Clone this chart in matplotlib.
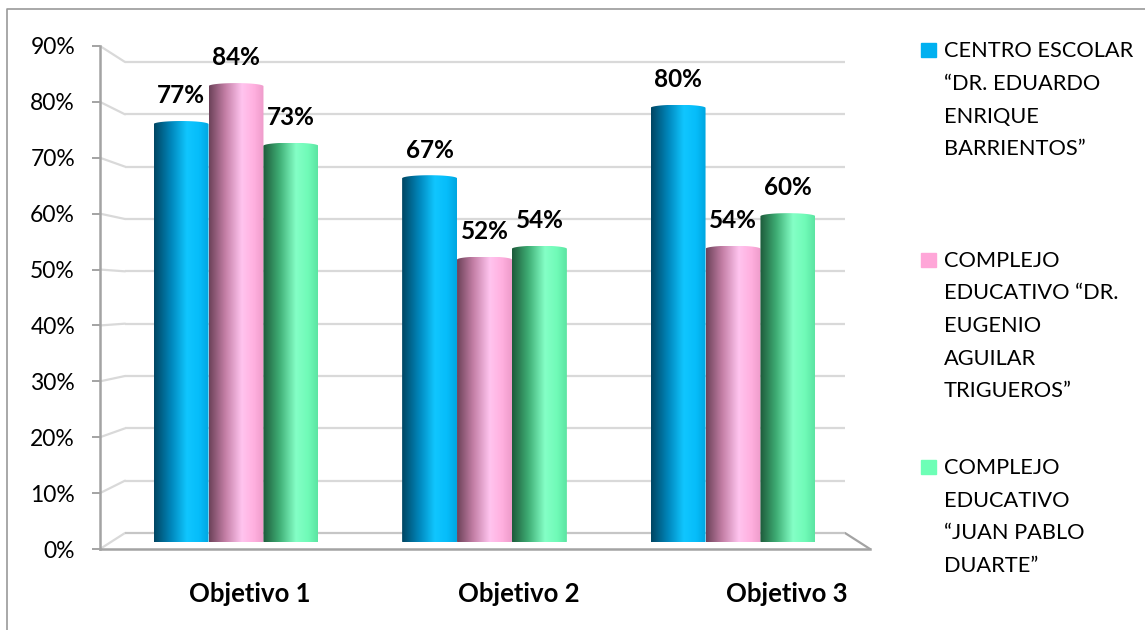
import numpy as np
import matplotlib
matplotlib.use('Agg')
import matplotlib.pyplot as plt
from matplotlib.patches import ConnectionPatch, Rectangle
from matplotlib.lines import Line2D
from matplotlib.path import Path
from matplotlib.colors import LinearSegmentedColormap
from matplotlib.ticker import PercentFormatter

# datos
categorias = ['Objetivo 1', 'Objetivo 2', 'Objetivo 3']
centro_barrientos = [0.77, 0.67, 0.80]
complejo_aguilar = [0.84, 0.52, 0.54]
complejo_duarte = [0.73, 0.54, 0.60]
nombres = ['CENTRO ESCOLAR\n“DR. EDUARDO\nENRIQUE\nBARRIENTOS”',
           'COMPLEJO\nEDUCATIVO “DR.\nEUGENIO\nAGUILAR\nTRIGUEROS”',
           'COMPLEJO\nEDUCATIVO\n“JUAN PABLO\nDUARTE”']
marcas = [0.0, 0.1, 0.2, 0.3, 0.4, 0.5, 0.6, 0.7, 0.8, 0.9]

series = [centro_barrientos, complejo_aguilar, complejo_duarte]
colores_leyenda = ['#00b0f0', '#ffa6d8', '#6dffb6']
degradados = [
    ['#004562', '#0084b8', '#10c6ff', '#06bdfa', '#00a6e0'],
    ['#6c4259', '#c47fa6', '#ffc4ef', '#ffb0df', '#ee9ccb'],
    ['#1d5a3a', '#3fae75', '#84ffc6', '#70fbb8', '#5ce4a2'],
]

plt.rcParams['font.family'] = ['Lato', 'DejaVu Sans']

W, H = 1145, 630
fig = plt.figure(figsize=(W / 100, H / 100), dpi=100)


def fx(x):
    return x / W


def fy(y):
    return 1 - y / H


def caja(l, t, r, b):
    return [fx(l), fy(b), fx(r) - fx(l), fy(t) - fy(b)]


gris_rejilla = '#d9d9d9'
gris_eje = '#a3a3a3'

# pared del fondo
ax_back = fig.add_axes(caja(125, 62, 845, 533), zorder=0)
ax_back.set_xlim(0, 1)
ax_back.set_ylim(0, 0.9)
ax_back.axis('off')
for t in marcas:
    ax_back.plot([0, 1], [t, t], color='#c6c6c6' if t == 0 else gris_rejilla,
                 lw=1.6, clip_on=False, solid_capstyle='butt')

# plano frontal (ejes)
ax_front = fig.add_axes(caja(100, 46, 870, 549), zorder=1)
ax_front.patch.set_visible(False)
ax_front.set_ylim(0, 0.9)
ax_front.set_xlim(-0.5587, 2.3091)
for s in ['top', 'right']:
    ax_front.spines[s].set_visible(False)
for s in ['left', 'bottom']:
    ax_front.spines[s].set_color(gris_eje)
    ax_front.spines[s].set_linewidth(1.8)
ax_front.set_yticks(marcas)
ax_front.yaxis.set_major_formatter(PercentFormatter(1.0, decimals=0))
ax_front.tick_params(axis='y', direction='out', length=6, width=1.4,
                     color=gris_eje, labelsize=16.5, pad=12, labelcolor='#000000')
ax_front.set_xticks(range(len(categorias)))
ax_front.set_xticklabels(categorias, fontsize=18.5, fontweight='bold')
ax_front.tick_params(axis='x', length=0, pad=24)

tr_front = ax_front.get_yaxis_transform()
tr_back = ax_back.get_yaxis_transform()
for t in marcas:
    cp = ConnectionPatch(xyA=(0, t), coordsA=tr_front, xyB=(0, t), coordsB=tr_back,
                         color=gris_rejilla, lw=1.6)
    ax_back.add_artist(cp)
cp = ConnectionPatch(xyA=(1, 0), coordsA=tr_front, xyB=(1, 0), coordsB=tr_back,
                     color=gris_eje, lw=1.6)
ax_back.add_artist(cp)

# barras cilindricas
ax = fig.add_axes(caja(111.75, 53.7, 857.25, 541.5), zorder=2)
ax.patch.set_visible(False)
ax.axis('off')
ax.set_xlim(-0.5, 2.5)
ax.set_ylim(0, 0.9)

ancho = 0.221
x = np.arange(len(categorias))
eh = 0.0058
for j, vals in enumerate(series):
    barras = ax.bar(x + (j - 1) * ancho, vals, ancho, color='none', linewidth=0)
    cmap = LinearSegmentedColormap.from_list('c%d' % j, list(zip([0, 0.3, 0.6, 0.82, 1.0], degradados[j])))
    grad = np.linspace(0, 1, 256).reshape(1, -1)
    for b in barras:
        x0 = b.get_x()
        w = b.get_width()
        v = b.get_height()
        cx = x0 + w / 2
        th = np.linspace(np.pi, 0, 60)
        top = np.column_stack([cx + w / 2 * np.cos(th), v + eh * np.sin(th)])
        th2 = np.linspace(0, -np.pi, 60)
        bot = np.column_stack([cx + w / 2 * np.cos(th2), eh * np.sin(th2)])
        pts = np.vstack([top, bot, top[:1]])
        contorno = Path(pts, closed=True)
        im = ax.imshow(grad, cmap=cmap, aspect='auto', interpolation='bilinear',
                       extent=[x0, x0 + w, -eh, v + eh], zorder=2)
        im.set_clip_path(contorno, transform=ax.transData)
        ax.annotate('%d%%' % round(v * 100), xy=(cx, v), xytext=(0, 15),
                    textcoords='offset points', ha='center', va='baseline',
                    fontsize=17.5, fontweight='bold', annotation_clip=False)
ax.set_xlim(-0.5, 2.5)
ax.set_ylim(0, 0.9)

# leyenda
inicios = [57.3, 266.7, 474.0]
for j, nombre in enumerate(nombres):
    y0 = inicios[j]
    fig.patches.append(Rectangle((fx(921), fy(y0)), fx(15), 14 / H,
                                 transform=fig.transFigure, color=colores_leyenda[j]))
    for k, linea in enumerate(nombre.split('\n')):
        fig.text(fx(944), fy(y0 + k * 32.6), linea, ha='left', va='baseline',
                 fontsize=15.7, color='#000000')

# borde
fig.add_artist(Line2D([fx(7), fx(7), fx(1146)], [fy(631), fy(9), fy(9)],
                      color='#9a9a9a', lw=1.2, transform=fig.transFigure))

fig.savefig('out.png', dpi=100, facecolor='white')
